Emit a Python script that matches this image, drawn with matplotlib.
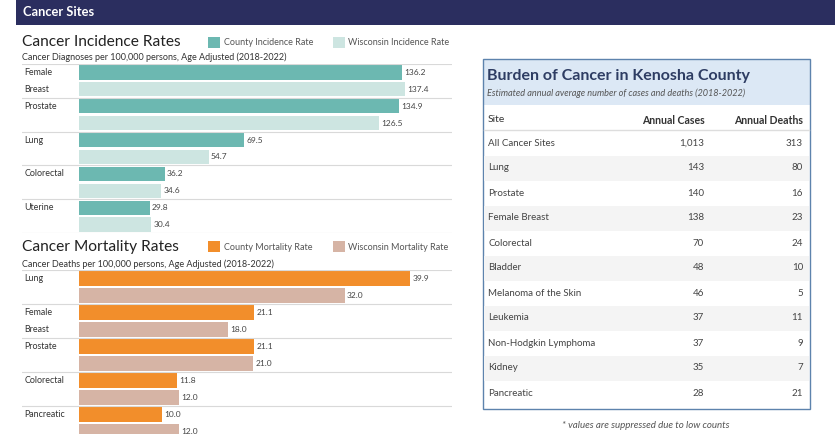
import matplotlib.pyplot as plt
from matplotlib.patches import Rectangle

plt.rcParams['font.family'] = ['Lato', 'DejaVu Sans']

# data
inc_sites = ["Female\nBreast", "Prostate", "Lung", "Colorectal", "Uterine"]
inc_county = [136.2, 134.9, 69.5, 36.2, 29.8]
inc_wi = [137.4, 126.5, 54.7, 34.6, 30.4]

mort_sites = ["Lung", "Female\nBreast", "Prostate", "Colorectal", "Pancreatic"]
mort_county = [39.9, 21.1, 21.1, 11.8, 10.0]
mort_wi = [32.0, 18.0, 21.0, 12.0, 12.0]

tbl_sites = ["All Cancer Sites", "Lung", "Prostate", "Female Breast", "Colorectal", "Bladder",
             "Melanoma of the Skin", "Leukemia", "Non-Hodgkin Lymphoma", "Kidney", "Pancreatic"]
tbl_cases = ["1,013", "143", "140", "138", "70", "48", "46", "37", "37", "35", "28"]
tbl_deaths = ["313", "80", "16", "23", "24", "10", "5", "11", "9", "7", "21"]

W, H = 838, 434
fig = plt.figure(figsize=(W / 100, H / 100), dpi=100)

# background axes in pixel coords
bg = fig.add_axes([0, 0, 1, 1])
bg.set_xlim(0, W)
bg.set_ylim(H, 0)
bg.axis("off")

navy = "#2b2e5f"
bg.add_patch(Rectangle((16, 0), 819, 25, color=navy, lw=0))
bg.text(23, 12.5, "Cancer Sites", color="white", fontsize=9.3, fontweight="bold", va="center")


def px_axes(x0, y0, x1, y1):
    return fig.add_axes([x0 / W, 1 - y1 / H, (x1 - x0) / W, (y1 - y0) / H])


def bar_panel(ax, sites, county, wi, c1, c2, xmin, xmax):
    n = len(sites)
    ypos_c = [2 * i for i in range(n)]
    ypos_w = [2 * i + 1 for i in range(n)]
    ax.barh(ypos_c, county, height=0.84, color=c1)
    ax.barh(ypos_w, wi, height=0.84, color=c2)
    for yy, v in zip(ypos_c + ypos_w, county + wi):
        ax.text(v + xmax * 0.006, yy, "%.1f" % v, fontsize=6, color="#444444", va="center")
    for i, s in enumerate(sites):
        if "\n" in s:
            a, b = s.split("\n")
            ax.text(xmin * 0.96, 2 * i, a, fontsize=6.4, color="#333333", va="center")
            ax.text(xmin * 0.96, 2 * i + 1, b, fontsize=6.4, color="#333333", va="center")
        else:
            ax.text(xmin * 0.96, 2 * i, s, fontsize=6.4, color="#333333", va="center")
    for i in range(n + 1):
        ax.axhline(2 * i - 0.5, color="#d9d9d9", lw=0.8)
    ax.set_xlim(xmin, xmax)
    ax.set_ylim(2 * n - 0.5, -0.5)
    ax.axis("off")


teal = "#6cb8b1"
teal_l = "#cde5e1"
orange = "#f28e2b"
tan = "#d6b4a5"

# incidence
bg.text(22, 42, "Cancer Incidence Rates", fontsize=11.2, color="#222222", va="center")
bg.add_patch(Rectangle((208, 37), 12, 11, color=teal, lw=0))
bg.text(224, 42.5, "County Incidence Rate", fontsize=6.5, color="#555555", va="center")
bg.add_patch(Rectangle((333, 37), 12, 11, color=teal_l, lw=0))
bg.text(348, 42.5, "Wisconsin Incidence Rate", fontsize=6.5, color="#555555", va="center")
bg.text(22, 57, "Cancer Diagnoses per 100,000 persons, Age Adjusted (2018-2022)", fontsize=6.5,
        color="#333333", va="center")
ax1 = px_axes(22, 64, 452, 233)
bar_panel(ax1, inc_sites, inc_county, inc_wi, teal, teal_l, -24.0, 157.2)

# mortality
bg.text(22, 247, "Cancer Mortality Rates", fontsize=11.2, color="#222222", va="center")
bg.add_patch(Rectangle((208, 241), 12, 11, color=orange, lw=0))
bg.text(224, 247, "County Mortality Rate", fontsize=6.5, color="#555555", va="center")
bg.add_patch(Rectangle((333, 241), 12, 11, color=tan, lw=0))
bg.text(348, 247, "Wisconsin Mortality Rate", fontsize=6.5, color="#555555", va="center")
bg.text(22, 264, "Cancer Deaths per 100,000 persons, Age Adjusted (2018-2022)", fontsize=6.5,
        color="#333333", va="center")
ax2 = px_axes(22, 270, 452, 440)
bar_panel(ax2, mort_sites, mort_county, mort_wi, orange, tan, -6.87, 44.94)

# table box
bx0, bx1, by0, by1 = 483, 810, 59, 409
bg.add_patch(Rectangle((bx0, by0), bx1 - bx0, 46, color="#dce8f5", lw=0))
bg.add_patch(Rectangle((bx0, by0), bx1 - bx0, by1 - by0, fill=False, ec="#5d83ad", lw=1))
bg.text(487, 76, "Burden of Cancer in Kenosha County", fontsize=11.5, fontweight="bold",
        color="#2e3d63", va="center")
bg.text(487, 93, "Estimated annual average number of cases and deaths (2018-2022)", fontsize=6.6,
        style="italic", color="#555555", va="center")
bg.text(488, 120, "Site", fontsize=7.5, color="#333333", va="center")
bg.text(705, 120, "Annual Cases", fontsize=7.6, fontweight="bold", color="#333333", va="center", ha="right")
bg.text(803, 120, "Annual Deaths", fontsize=7.6, fontweight="bold", color="#333333", va="center", ha="right")
bg.plot([bx0 + 1, bx1 - 1], [130, 130], color="#dddddd", lw=1)

row_h = 25
for k, (s, c, d) in enumerate(zip(tbl_sites, tbl_cases, tbl_deaths)):
    yc = 143 + k * row_h
    if k % 2 == 1:
        bg.add_patch(Rectangle((bx0 + 1, yc - row_h / 2), bx1 - bx0 - 2, row_h, color="#f4f4f4", lw=0))
    bg.text(488, yc, s, fontsize=7.0, color="#444444", va="center")
    bg.text(704, yc, c, fontsize=7.0, color="#444444", va="center", ha="right")
    bg.text(803, yc, d, fontsize=7.0, color="#444444", va="center", ha="right")

bg.text(646, 425, "* values are suppressed due to low counts", fontsize=7.0, style="italic",
        color="#555555", va="center", ha="center")

fig.savefig("out.png", dpi=100)
